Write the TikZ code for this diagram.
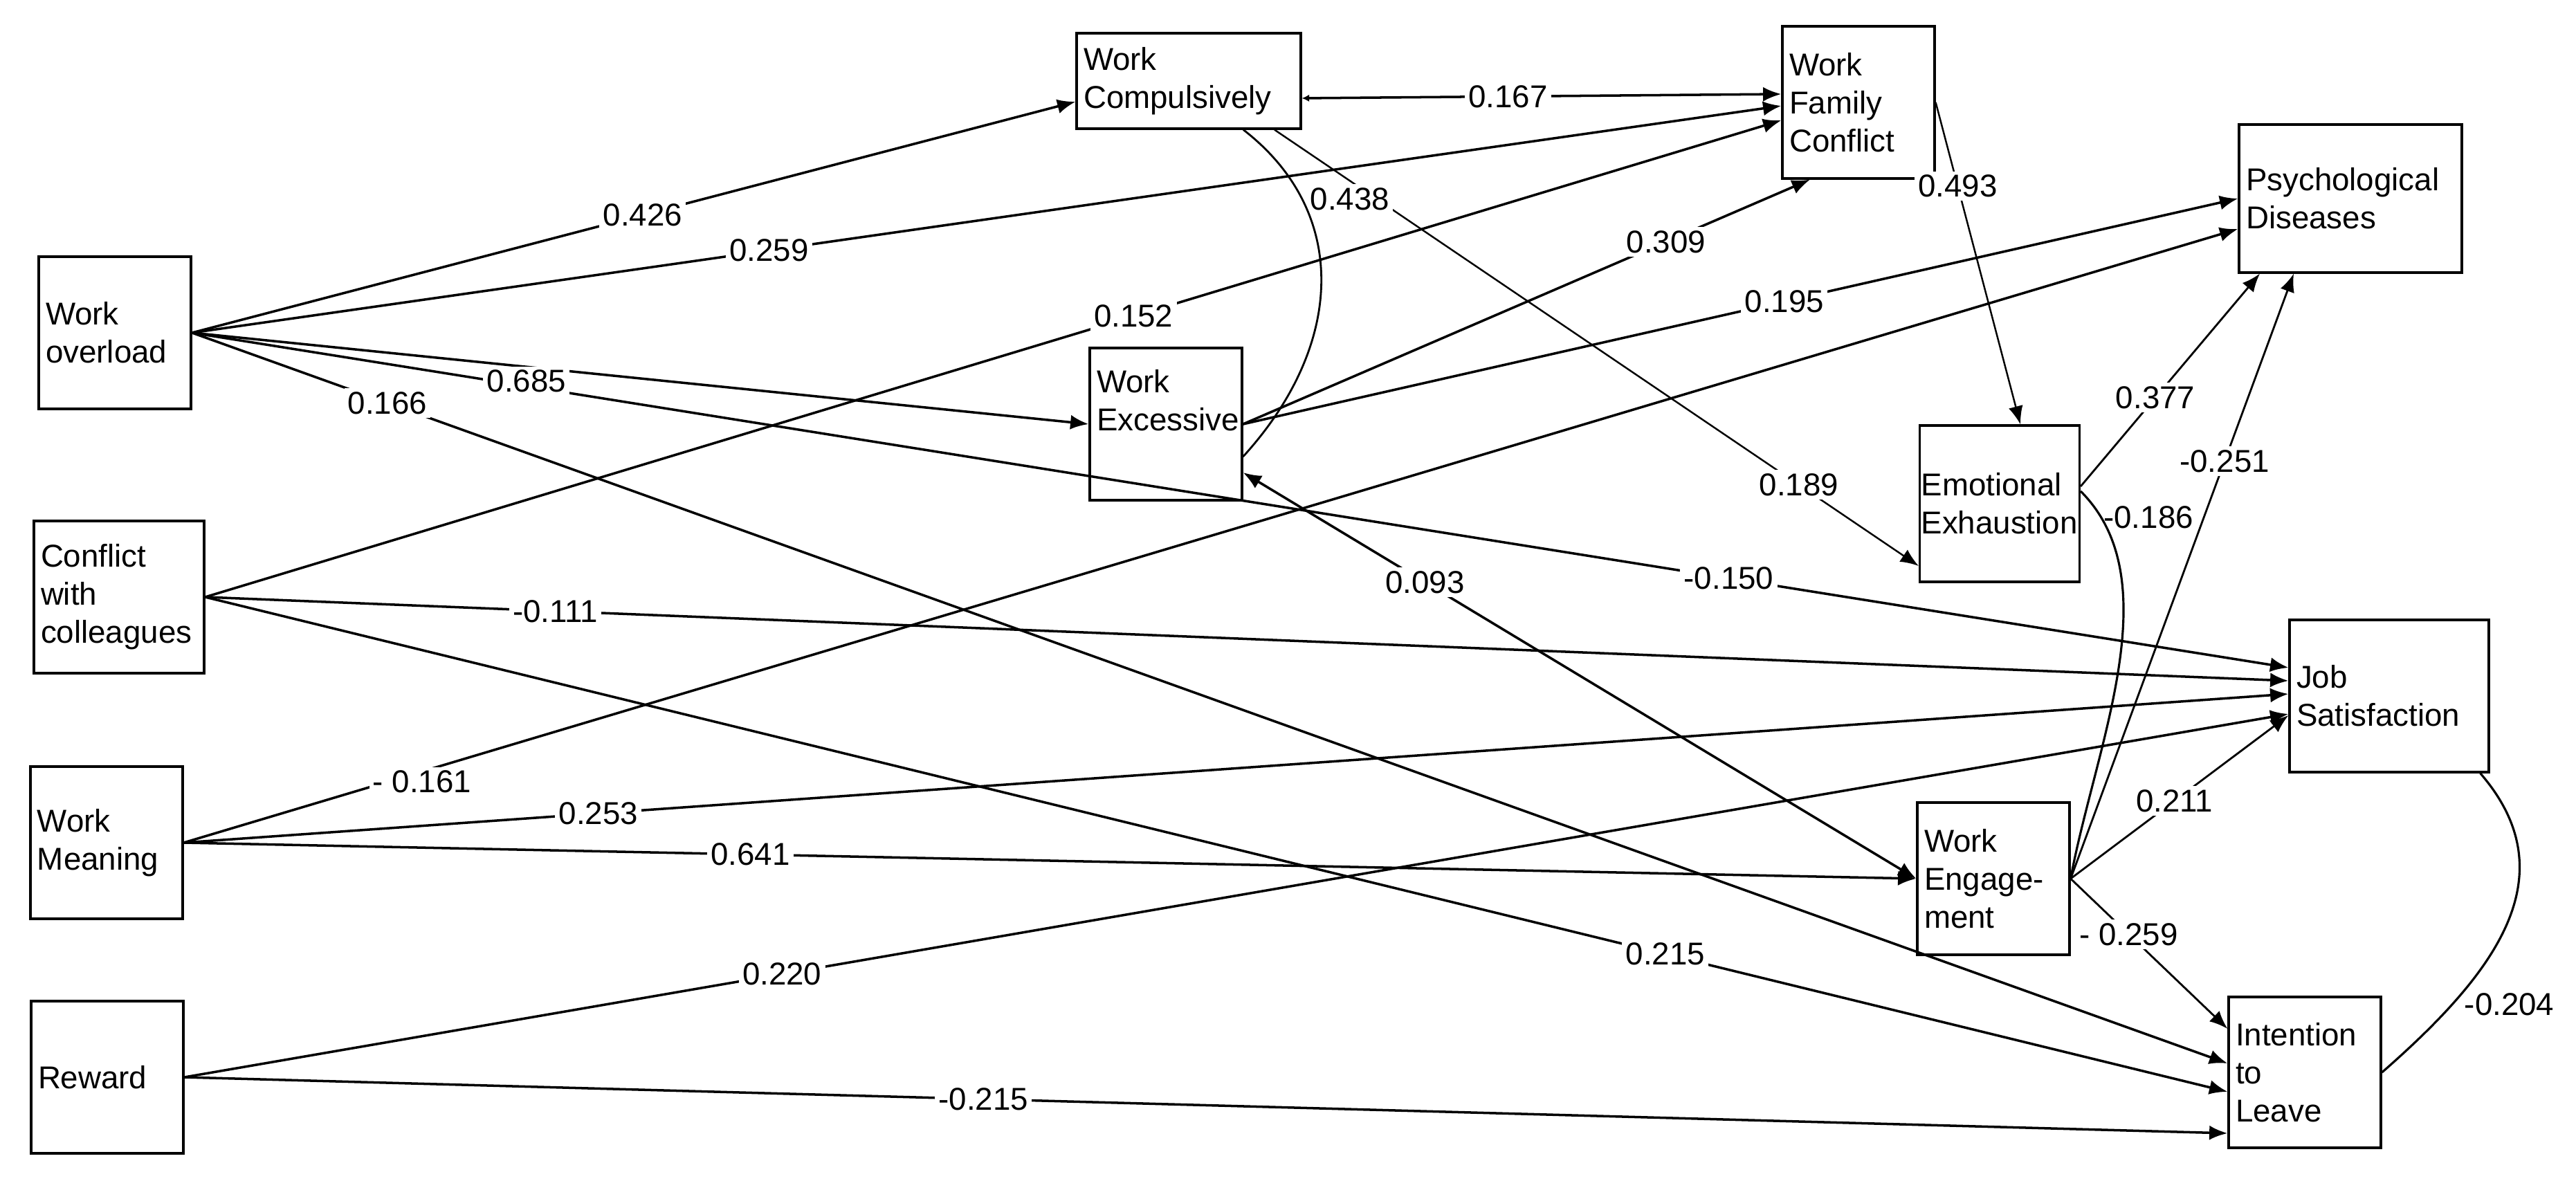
\documentclass[tikz,border=0pt]{standalone}
\usepackage{amssymb}
\usepackage{amsfonts}
\usepackage{amsmath}
\usepackage{fontspec}
\setmainfont{Liberation Sans}
\usepackage{tikz}
\usetikzlibrary{arrows.meta}
\hyphenpenalty=10000

\begin{document}
\begin{tikzpicture}[xscale=1, yscale=1, font=\fontsize{13pt}{15.6pt}\selectfont,
  >={Latex[length=7.5pt,width=6pt]},
  box/.style={draw, black, line width=0.9pt, align=left, inner sep=0.1cm, text width=2cm, minimum height=2.2cm},
  arr/.style={black, line width=1pt, ->},
  lbl/.style={fill=white, inner sep=1.5pt}]
\useasboundingbox (0,0) rectangle (37.23,-17.07);

\node[box] (WO) at (1.66,-4.81) {Work\\overload};
\node[box, text width=2.26cm] (CC) at (1.72,-8.63) {Conflict\\with\\colleagues};
\node[box] (WM) at (1.54,-12.18) {Work\\Meaning};
\node[box] (RW) at (1.55,-15.57) {Reward};
\node[box, text width=3.04cm, minimum height=1.38cm] (WC) at (17.18,-1.17) {Work\\Compulsively};
\node[box] (WE) at (16.85,-6.13) {Work\\Excessive\\[0.15cm]\mbox{}};
\node[box] (WFC) at (26.86,-1.48) {Work\\Family\\Conflict};
\node[box, text width=3.02cm, minimum height=2.14cm] (PD) at (33.97,-2.87) {Psychological\\Diseases};
\node[box, text width=2.27cm, inner xsep=0.02cm, minimum height=2.26cm] (EE) at (28.9,-7.28) {Emotional\\Exhaustion};
\node[box, text width=2.68cm] (JS) at (34.53,-10.06) {Job\\Satisfaction};
\node[box] (WEn) at (28.81,-12.7) {Work\\Engage-\\ment};
\node[box, minimum height=2.18cm] (IL) at (33.31,-15.5) {Intention\\to\\Leave};

\draw[arr] (WO.east) -- node[lbl, pos=0.51] {0.426} ([yshift=-0.3cm]WC.west);
\draw[arr] (WO.east) -- node[lbl, pos=0.363] {0.259} ([yshift=-0.05cm]WFC.west);
\draw[arr] (WO.east) -- node[lbl, pos=0.733] {-0.150} ([yshift=0.41cm]JS.west);
\draw[arr] (WO.east) -- node[lbl, pos=0.373, yshift=-0.21cm] {0.685} (WE.west);
\draw[arr] (WO.east) -- node[lbl, pos=0.096] {0.166} ([yshift=0.13cm]IL.west);

\draw[arr] (CC.east) -- node[lbl, pos=0.589] {0.152} ([yshift=-0.26cm]WFC.west);
\draw[arr] (CC.east) -- node[lbl, pos=0.168] {-0.111} ([yshift=0.22cm]JS.west);
\draw[arr] (CC.east) -- node[lbl, pos=0.722] {0.215} ([yshift=-0.28cm]IL.west);

\draw[arr] (WM.east) -- node[lbl, pos=0.116, yshift=-0.15cm] {- 0.161} ([yshift=-0.44cm]PD.west);
\draw[arr] (WM.east) -- node[lbl, pos=0.197] {0.253} ([yshift=0.03cm]JS.west);
\draw[arr] (WM.east) -- node[lbl, pos=0.327] {0.641} (WEn.west);

\draw[arr] (RW.east) -- node[lbl, pos=0.284] {0.220} ([yshift=-0.26cm]JS.west);
\draw[arr] (RW.east) -- node[lbl, pos=0.391] {-0.215} ([yshift=-0.88cm]IL.west);

\draw[arr, {Latex[length=3pt,width=3pt]}->] ([yshift=-0.25cm]WC.east) -- node[lbl, pos=0.43] {0.167} ([yshift=0.12cm]WFC.west);
\draw[arr, line width=0.7pt] ([xshift=1.24cm]WC.south) -- node[lbl, pos=0.13, xshift=-0.12cm, yshift=-0.18cm] {0.438} node[lbl, pos=0.814] {0.189} ([yshift=-0.9cm]EE.west);
\draw[line width=0.8pt] ([xshift=0.79cm]WC.south) .. controls +(1.55,-1.2) and +(1.46,1.6) .. ([yshift=-0.47cm]WE.east);

\draw[arr] (WE.east) -- node[lbl, pos=0.746] {0.309} ([xshift=-0.7cm]WFC.south);
\draw[arr] (WE.east) -- node[lbl, pos=0.544] {0.195} (PD.west);
\draw[arr, <->] ([yshift=-0.7cm]WE.east) -- node[lbl, pos=0.27] {0.093} (WEn.west);

\draw[arr, line width=0.7pt] (WFC.east) -- node[lbl, pos=0.26] {0.493} ([xshift=0.3cm]EE.north);
\draw[arr, line width=0.8pt] ([yshift=0.25cm]EE.east) -- node[lbl, pos=0.417] {0.377} ([xshift=-1.31cm]PD.south);
\draw[line width=0.9pt] ([yshift=0.18cm]EE.east) .. controls +(1.3,-1.3) and +(0.35,1.9) .. (WEn.east);
\node (r186) at ([xshift=0.98cm, yshift=-0.2cm]EE.east) {-0.186};

\draw[arr, line width=0.8pt] (WEn.east) -- node[lbl, pos=0.69] {-0.251} ([xshift=-0.82cm]PD.south);
\draw[arr, line width=0.8pt] (WEn.east) -- node[lbl, pos=0.477] {0.211} ([yshift=-0.28cm]JS.west);
\draw[arr, line width=0.8pt] (WEn.east) -- node[lbl, pos=0.37] {- 0.259} ([yshift=0.63cm]IL.west);

\draw[line width=0.9pt] ([xshift=-0.14cm]JS.south east) .. controls +(1.3,-1.5) and +(1.6,1.4) .. (IL.east);
\node (r204) at ([xshift=1.84cm, yshift=0.98cm]IL.east) {-0.204};

\end{tikzpicture}
\end{document}
